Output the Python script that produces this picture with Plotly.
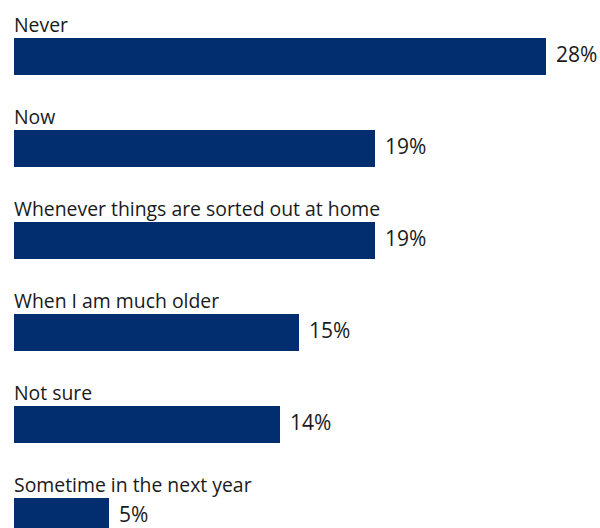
import plotly.graph_objects as go

# Survey answers, top to bottom, with their shares in percent
categories = [
    "Never",
    "Now",
    "Whenever things are sorted out at home",
    "When I am much older",
    "Not sure",
    "Sometime in the next year",
]
shares = [28, 19, 19, 15, 14, 5]
value_labels = [f"{v}%" for v in shares]

BAR_COLOR = "#022E6F"
TEXT_COLOR = "#1a1a1a"
FONT = "Open Sans"

positions = list(range(len(categories)))
bar_width = 0.397

fig = go.Figure(
    go.Bar(
        x=shares,
        y=positions,
        orientation="h",
        width=bar_width,
        marker=dict(color=BAR_COLOR, line=dict(width=0)),
        hoverinfo="skip",
    )
)

annotations = []
for pos, cat, val, lab in zip(positions, categories, shares, value_labels):
    # category name sitting just above its bar
    annotations.append(
        dict(
            x=0, y=pos - bar_width / 2,
            xref="x", yref="y",
            text=cat, showarrow=False,
            xanchor="left", yanchor="bottom",
            xshift=-2, yshift=-2,
            font=dict(family=FONT, size=19.4, color=TEXT_COLOR),
        )
    )
    # percentage to the right of the bar end
    annotations.append(
        dict(
            x=val, y=pos,
            xref="x", yref="y",
            text=lab, showarrow=False,
            xanchor="left", yanchor="middle",
            xshift=9, yshift=2, borderpad=0,
            font=dict(family=FONT, size=21, color=TEXT_COLOR),
        )
    )

fig.update_layout(
    width=600, height=528,
    margin=dict(l=0, r=0, t=0, b=0),
    paper_bgcolor="white",
    plot_bgcolor="white",
    showlegend=False,
    bargap=0,
    annotations=annotations,
    xaxis=dict(
        range=[-14 / 19, 586 / 19],
        visible=False, fixedrange=True,
    ),
    yaxis=dict(
        range=[(528 - 56.3) / 92, -56.3 / 92],
        visible=False, fixedrange=True,
    ),
)

fig.write_html("out.html", config=dict(displayModeBar=False))
